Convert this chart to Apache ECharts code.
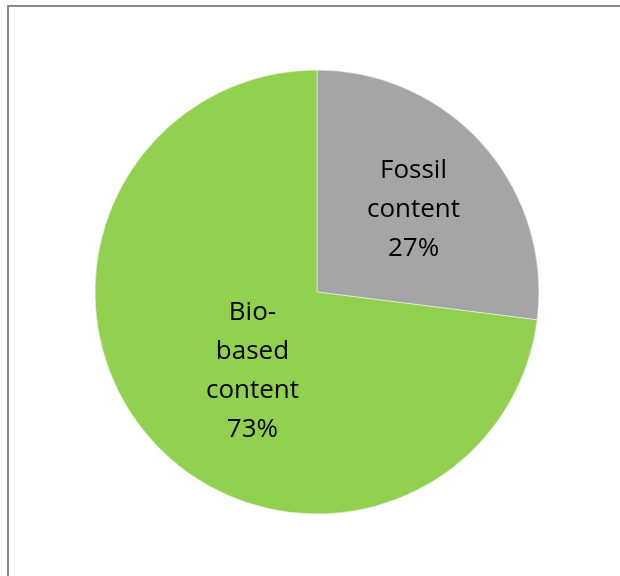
<!DOCTYPE html>
<html>
<head>
<meta charset="utf-8">
<script src="https://cdn.jsdelivr.net/npm/echarts@6/dist/echarts.min.js"></script>
<style>
  html, body { margin: 0; padding: 0; background: #fff; }
  #chart { width: 620px; height: 576px; }
</style>
</head>
<body>
<div id="chart"></div>
<script>
const names = ['Fossil\ncontent', 'Bio-\nbased\ncontent']
const values = [27, 73]
const colors = ['#a5a5a5', '#92d050']
// small nudges so labels sit where the original puts them
const labelOffsets = [[11, -7], [21, 4]]

const chart = echarts.init(document.getElementById('chart'))

chart.setOption({
  animation: false,
  graphic: [{
    type: 'rect',
    shape: { x: 8, y: 6, width: 700, height: 700 },
    style: { fill: 'none', stroke: '#898989', lineWidth: 2 }
  }],
  series: [{
    type: 'pie',
    center: [317, 292],
    radius: 222,
    startAngle: 90,
    clockwise: true,
    itemStyle: { borderColor: '#f4f4f4', borderWidth: 0.6 },
    label: {
      position: 'inside',
      formatter: (p) => p.name + '\n' + p.value + '%',
      fontFamily: 'Open Sans',
      fontSize: 26,
      lineHeight: 39,
      color: '#000',
      align: 'center'
    },
    labelLine: { show: false },
    emphasis: { disabled: true },
    data: names.map((n, i) => ({
      name: n,
      value: values[i],
      itemStyle: { color: colors[i] },
      label: { offset: labelOffsets[i] }
    }))
  }]
})
</script>
</body>
</html>
